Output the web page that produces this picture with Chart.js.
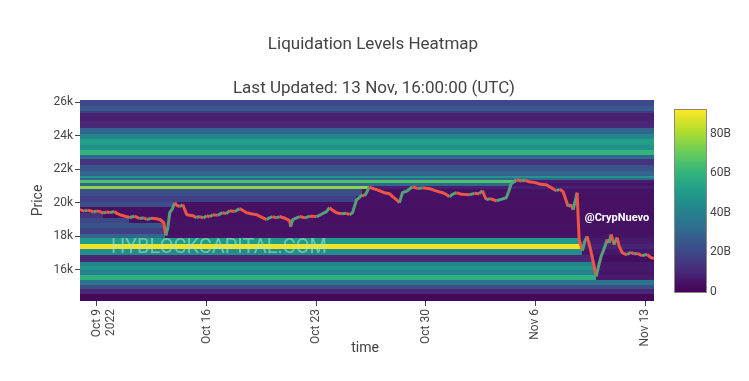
<!DOCTYPE html>
<html>
<head>
<meta charset="utf-8">
<script src="https://cdn.jsdelivr.net/npm/chart.js@4.4.0/dist/chart.umd.min.js"></script>
<style>
  html, body { margin: 0; padding: 0; background: #fff; }
</style>
</head>
<body>
<canvas id="chart" width="749" height="381"></canvas>
<script>
"use strict";

// price path, days since Oct 9 2022 (UTC)
const priceDay = [-1.08, -0.80, -0.60, -0.45, -0.20, 0.00, 0.19, 0.45, 0.60, 0.83, 1.10, 1.30, 1.47, 1.80, 2.10,
  2.40, 2.74, 3.00, 3.19, 3.45, 3.70, 4.02, 4.27, 4.40, 4.53, 4.65, 4.80, 4.97, 5.10, 5.29, 5.48, 5.60, 5.74,
  6.12, 6.35, 6.57, 6.80, 7.01, 7.20, 7.40, 7.70, 8.03, 8.25, 8.48, 8.80, 9.12, 9.30, 9.56, 9.85, 10.20, 10.50,
  10.84, 11.00, 11.22, 11.45, 11.67, 12.00, 12.30, 12.37, 12.50, 12.94, 13.30, 13.60, 14.03, 14.30, 14.66, 14.85,
  15.05, 15.30, 15.60, 15.90, 16.13, 16.32, 16.45, 16.58, 16.75, 16.96, 17.10, 17.40, 17.60, 17.85, 18.10, 18.35,
  18.68, 18.90, 19.13, 19.32, 19.51, 19.80, 20.15, 20.50, 20.80, 21.23, 21.60, 22.06, 22.30, 22.50, 22.70, 22.95,
  23.30, 23.78, 24.10, 24.42, 24.61, 24.86, 25.10, 25.50, 25.80, 26.14, 26.30, 26.46, 26.78, 27.10, 27.35, 27.60,
  28.00, 28.30, 28.69, 29.00, 29.33, 29.55, 29.77, 30.09, 30.25, 30.41, 30.66, 30.79, 31.00, 31.15, 31.30, 31.50,
  31.75, 31.88, 32.05, 32.19, 32.40, 32.58, 32.70, 32.83, 33.02, 33.21, 33.35, 33.53, 33.70, 33.85, 34.10, 34.30,
  34.49, 34.80, 35.13, 35.35, 35.57];
const priceClose = [19590, 19500, 19560, 19530, 19450, 19520, 19470, 19380, 19460, 19410, 19480, 19350, 19290, 19200, 19120,
  19200, 19060, 19110, 19000, 19080, 19060, 19000, 18820, 18050, 18520, 19410, 19600, 20000, 19850, 19770, 19890, 19600, 19290,
  19230, 19120, 19180, 19100, 19230, 19170, 19290, 19250, 19410, 19350, 19530, 19480, 19650, 19550, 19410, 19350, 19290, 19150,
  19000, 19100, 19180, 19100, 19180, 19080, 18940, 18580, 19000, 19180, 19100, 19200, 19180, 19300, 19470, 19710,
  19550, 19410, 19350, 19380, 19290, 19410, 19800, 20180, 20300, 20480, 20400, 20950, 20850, 20780, 20700, 20600,
  20540, 20350, 20180, 20010, 20600, 20700, 20950, 20850, 20900, 20840, 20720, 20600, 20500, 20360, 20500, 20600,
  20500, 20480, 20560, 20540, 20720, 20180, 20250, 20120, 20200, 20300, 20700, 21130, 21370, 21300, 21350, 21250,
  21200, 21100, 21070, 20900, 20720, 20800, 20660, 19770, 19900, 19590, 20600, 17800, 17150, 17700, 18000, 17300,
  16210, 15610, 16300, 16800, 17300, 17810, 17600, 18110, 17510, 17930, 17400, 17040, 16950, 16920, 17050, 16950,
  16980, 16850, 16920, 16750, 16680];

// liquidation bands (price edges, bottom to top) and their size in billions
const bandEdge = [14150, 14600, 14900, 15150, 15450, 15700, 16000, 16250, 16500, 16900, 17250, 17550, 17950,
  18150, 18500, 18850, 19150, 19450, 19750, 20050, 20450, 20850, 21050, 21200, 21380, 21500, 21650, 21950,
  22250, 22650, 22900, 23150, 23450, 23850, 24150, 24500, 24900, 25350, 25520, 25820, 26120];
const bandValue = [2, 10, 22, 35, 58, 40, 48, 42, 10, 45, 90, 50, 30,
  18, 24, 20, 14, 18, 22, 18, 22, 76, 30, 66, 30, 48, 30, 24,
  14, 30, 60, 46, 52, 42, 30, 10, 8, 16, 26, 20];

const xTickDays = [0, 7, 14, 21, 28, 35];
const xTickLabels = [["Oct 9", "2022"], "Oct 16", "Oct 23", "Oct 30", "Nov 6", "Nov 13"];
const yTickValues = [16000, 18000, 20000, 22000, 24000, 26000];
const colorTicks = [0, 20, 40, 60, 80];
const colorMax = 92;

const viridisStops = ["#440154", "#482878", "#3e4989", "#31688e", "#26828e", "#1f9e89", "#35b779", "#6ece58", "#b5de2b", "#fde725"];

function hexRgb(h) {
  return [parseInt(h.slice(1, 3), 16), parseInt(h.slice(3, 5), 16), parseInt(h.slice(5, 7), 16)];
}
function viridis(t) {
  t = Math.max(0, Math.min(1, t));
  let pos = t * (viridisStops.length - 1);
  let i = Math.min(Math.floor(pos), viridisStops.length - 2);
  let f = pos - i;
  let a = hexRgb(viridisStops[i]), b = hexRgb(viridisStops[i + 1]);
  let c = a.map((v, k) => Math.round(v + (b[k] - v) * f));
  return "rgb(" + c.join(",") + ")";
}

// a band that the price has already run through is shown as nearly empty
function clearedLevel(v) {
  return 3 + v * 0.07;
}

const font = "Roboto, 'Open Sans', sans-serif";

const heatmapPlugin = {
  id: "heatmap",
  beforeDatasetsDraw(chart) {
    const { ctx, chartArea: a, scales: { x, y } } = chart;
    ctx.save();
    ctx.beginPath();
    ctx.rect(a.left, a.top, a.right - a.left, a.bottom - a.top);
    ctx.clip();
    let lo = priceClose[0], hi = priceClose[0];
    for (let i = 0; i < priceDay.length - 1; i++) {
      lo = Math.min(lo, priceClose[i]);
      hi = Math.max(hi, priceClose[i]);
      let x0 = Math.floor(x.getPixelForValue(priceDay[i]));
      let x1 = Math.ceil(x.getPixelForValue(priceDay[i + 1]));
      for (let j = 0; j < bandValue.length; j++) {
        let bl = bandEdge[j], bh = bandEdge[j + 1];
        let hit = bh > lo && bl < hi;
        let v = hit ? clearedLevel(bandValue[j]) : bandValue[j];
        ctx.fillStyle = viridis(v / colorMax);
        let y0 = Math.floor(y.getPixelForValue(bh));
        let y1 = Math.ceil(y.getPixelForValue(bl));
        ctx.fillRect(x0, y0, x1 - x0 + 1, y1 - y0);
      }
    }
    // watermark
    ctx.font = "20px " + font;
    ctx.fillStyle = "rgba(175, 235, 195, 0.55)";
    ctx.textAlign = "center";
    ctx.textBaseline = "middle";
    ctx.fillText("HYBLOCKCAPITAL.COM", 219, 248);
    ctx.restore();
  },
  afterDatasetsDraw(chart) {
    const { ctx, chartArea: a } = chart;
    ctx.save();
    ctx.fillStyle = "#fff";
    ctx.font = "bold 11px " + font;
    ctx.textAlign = "center";
    ctx.textBaseline = "middle";
    ctx.fillText("@CrypNuevo", 617, 218);

    // titles
    ctx.fillStyle = "#444";
    ctx.font = "17px " + font;
    ctx.fillText("Liquidation Levels Heatmap", 373, 45);
    ctx.fillText("Last Updated: 13 Nov, 16:00:00 (UTC)", 374, 89);

    ctx.font = "14px " + font;
    ctx.fillText("time", 365, 348);
    ctx.save();
    ctx.translate(38, (a.top + a.bottom) / 2);
    ctx.rotate(-Math.PI / 2);
    ctx.fillText("Price", 0, 0);
    ctx.restore();

    // colorbar
    const cbL = 675, cbR = 706, cbT = 110, cbB = 292;
    for (let py = cbT; py < cbB; py++) {
      ctx.fillStyle = viridis((cbB - py - 0.5) / (cbB - cbT));
      ctx.fillRect(cbL, py, cbR - cbL, 1);
    }
    ctx.strokeStyle = "#8a8a80";
    ctx.lineWidth = 1;
    ctx.strokeRect(cbL - 0.5, cbT - 0.5, cbR - cbL + 1, cbB - cbT + 1);
    ctx.fillStyle = "#444";
    ctx.font = "12px " + font;
    ctx.textAlign = "left";
    for (let v of colorTicks) {
      let py = cbB - (v / colorMax) * (cbB - cbT);
      ctx.fillText(v === 0 ? "0" : v + "B", cbR + 4, py);
    }
    ctx.restore();
  }
};

const upColor = "#55a07a";
const downColor = "#ee5544";

let points = priceDay.map((d, i) => ({ x: d, y: priceClose[i] }));

let chart = new Chart(document.getElementById("chart"), {
  type: "scatter",
  data: {
    datasets: [{
      data: points,
      showLine: true,
      pointRadius: 0,
      borderWidth: 3,
      borderJoinStyle: "bevel",
      borderColor: downColor,
      segment: {
        borderColor: ctx => (ctx.p1.parsed.y >= ctx.p0.parsed.y ? upColor : downColor)
      }
    }]
  },
  options: {
    responsive: false,
    animation: false,
    layout: { padding: { left: 0, right: 95, top: 100, bottom: 0 } },
    plugins: { legend: { display: false }, tooltip: { enabled: false } },
    scales: {
      x: {
        type: "linear",
        min: priceDay[0],
        max: priceDay[priceDay.length - 1],
        afterBuildTicks: s => { s.ticks = xTickDays.map(v => ({ value: v })); },
        afterFit: s => { s.height = 80; },
        border: { display: false },
        grid: { drawOnChartArea: false, tickLength: 5, color: "#444" },
        ticks: {
          autoSkip: false,
          minRotation: 90,
          maxRotation: 90,
          padding: 3,
          color: "#444",
          font: { family: font, size: 12 },
          callback: (v, i) => xTickLabels[i]
        }
      },
      y: {
        type: "linear",
        min: 14150,
        max: 26120,
        afterBuildTicks: s => { s.ticks = yTickValues.map(v => ({ value: v })); },
        afterFit: s => { s.width = 80; },
        border: { display: false },
        grid: { drawOnChartArea: false, tickLength: 5, color: "#444" },
        ticks: {
          padding: 2,
          color: "#444",
          font: { family: font, size: 12 },
          callback: v => v / 1000 + "k"
        }
      }
    }
  },
  plugins: [heatmapPlugin]
});
</script>
</body>
</html>
